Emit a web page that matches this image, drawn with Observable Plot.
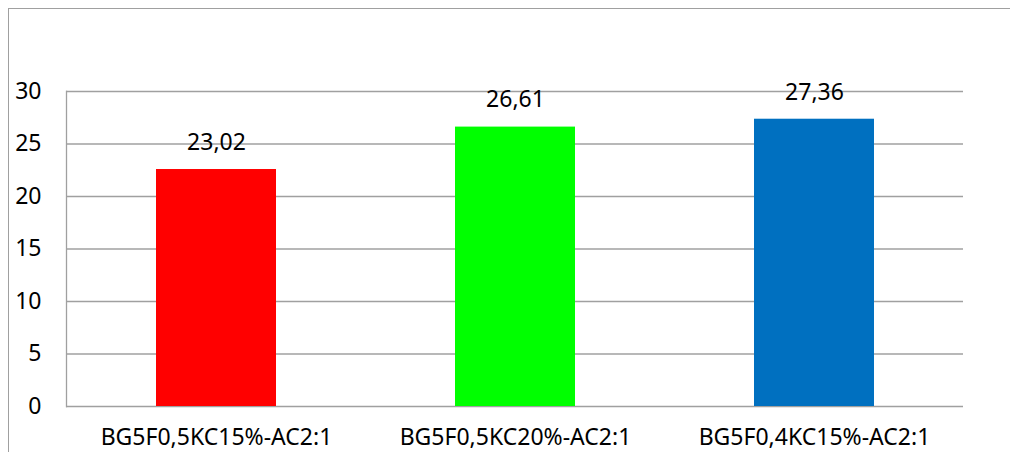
<!DOCTYPE html>
<html>
<head>
<meta charset="utf-8">
<script src="https://cdn.jsdelivr.net/npm/d3@7"></script>
<script src="https://cdn.jsdelivr.net/npm/@observablehq/plot@0.6"></script>
<style>
  html, body { margin: 0; padding: 0; background: #fff; }
  #wrap { position: relative; width: 1010px; height: 452px; overflow: hidden; }
  #border { position: absolute; left: 8px; top: 8px; width: 1100px; height: 600px;
            border-left: 1.5px solid #a0a0a0; border-top: 1.5px solid #a0a0a0; pointer-events: none; }
  svg { display: block; }
</style>
</head>
<body>
<div id="wrap"><div id="border"></div></div>
<script>
const categories = ["BG5F0,5KC15%-AC2:1", "BG5F0,5KC20%-AC2:1", "BG5F0,4KC15%-AC2:1"];
const values = [22.57, 26.61, 27.36];
const valueLabels = ["23,02", "26,61", "27,36"];
const colors = ["#ff0000", "#00ff00", "#0070c0"];
const yTicks = [0, 5, 10, 15, 20, 25, 30];

const data = categories.map((c, i) => ({cat: c, value: values[i], label: valueLabels[i], color: colors[i]}));

const chart = Plot.plot({
  width: 1010,
  height: 452,
  marginLeft: 66,
  marginRight: 47,
  marginTop: 91,
  marginBottom: 46,
  style: {fontFamily: "'Noto Sans', sans-serif", fontSize: "23px", color: "#000", background: "transparent"},
  x: {domain: categories, paddingInner: 0.6, paddingOuter: 0.3, label: null},
  y: {domain: [0, 30], label: null},
  marks: [
    Plot.ruleY(yTicks, {stroke: "#a0a0a0", strokeWidth: 1.3, strokeOpacity: 1}),
    Plot.frame({anchor: "left", stroke: "#a0a0a0", strokeWidth: 1.3}),
    Plot.barY(data, {x: "cat", y: "value", fill: "color"}),
    Plot.text(data, {x: "cat", y: "value", text: "label", dy: -27, lineAnchor: "middle", fontSize: 23, fill: "#000"}),
    Plot.axisY(yTicks, {tickSize: 0, tickPadding: 25, fontSize: 23, fill: "#000", label: null}),
    Plot.axisX({tickSize: 0, tickPadding: 22, fontSize: 23, fill: "#000", label: null})
  ]
});
document.getElementById("wrap").prepend(chart);
</script>
</body>
</html>
